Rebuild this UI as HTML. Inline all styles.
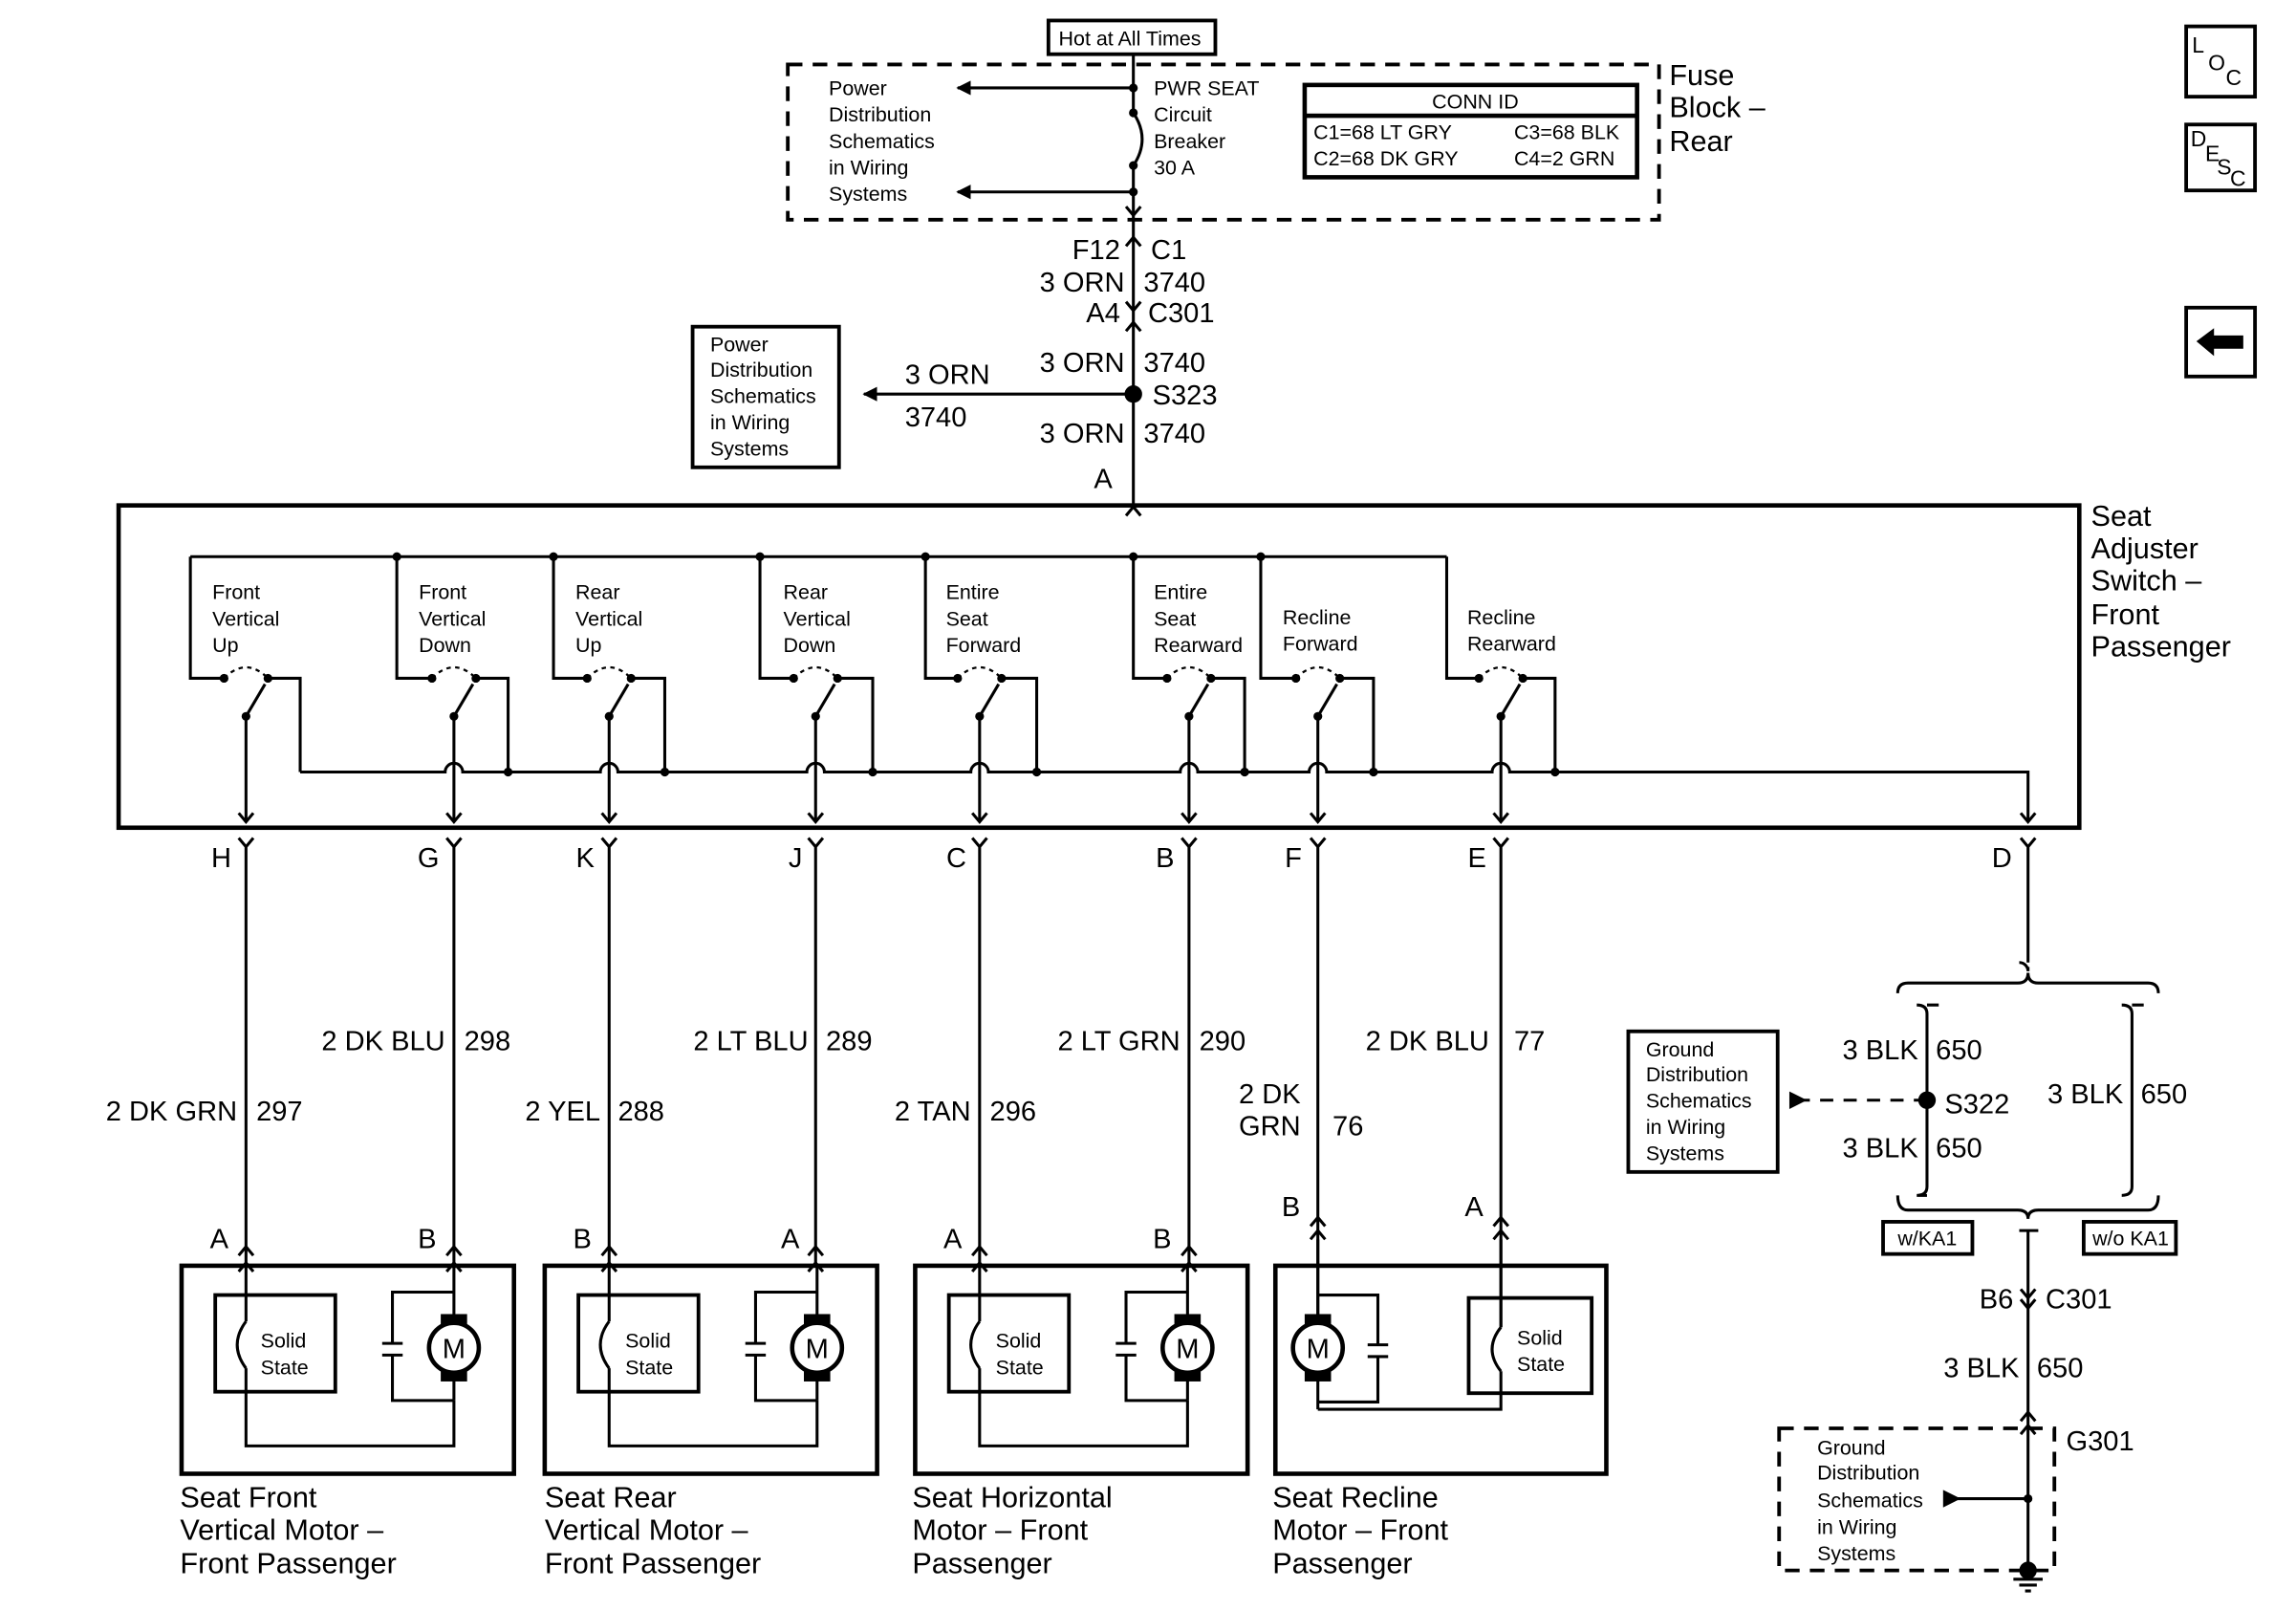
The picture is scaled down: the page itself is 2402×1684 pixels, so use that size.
<!DOCTYPE html>
<html><head><meta charset="utf-8"><style>
html,body{margin:0;padding:0;background:#fff}
svg{display:block}
text{font-family:"Liberation Sans Narrow","Liberation Sans",sans-serif;fill:#000}
.s{font-size:14px}
.m{font-size:19px}
.b{font-size:20px}
</style></head><body>
<svg width="2402" height="1684" viewBox="0 0 1568 1099" preserveAspectRatio="none" xmlns="http://www.w3.org/2000/svg">
<defs>
<marker id="ah" markerWidth="10" markerHeight="10" refX="9" refY="5" orient="auto" markerUnits="userSpaceOnUse"><path d="M0,0 L10,5 L0,10 z" fill="#000"/></marker>
</defs>
<g stroke="#000" fill="none" stroke-width="2">
<rect x="716" y="14" width="114" height="23" stroke-width="2.5"/>
<rect x="538" y="44" width="595" height="106" stroke-dasharray="10,7" stroke-width="2.5"/>
<line x1="774" y1="37" x2="774" y2="77"/>
<path d="M774 77 Q786 95 774 113"/>
<line x1="774" y1="113" x2="774" y2="345"/>
<line x1="774" y1="60" x2="654" y2="60" marker-end="url(#ah)"/>
<line x1="774" y1="131" x2="654" y2="131" marker-end="url(#ah)"/>
<rect x="891" y="58" width="227" height="63" stroke-width="3"/>
<line x1="891" y1="79" x2="1118" y2="79" stroke-width="3"/>
<path d="M769 141 L774 147 L779 141"/>
<path d="M769 168 L774 162 L779 168"/>
<path d="M769 206 L774 212 L779 206"/>
<path d="M769 226 L774 220 L779 226"/>
<line x1="774" y1="269" x2="590" y2="269" marker-end="url(#ah)"/>
<rect x="473" y="223" width="100" height="96" stroke-width="2.5"/>
<path d="M769 352 L774 346 L779 352"/>
<rect x="81" y="345" width="1339" height="220" stroke-width="3"/>
<line x1="130" y1="380" x2="988" y2="380"/>
<path d="M130 380 V463 H153 M183 463 H205 V527"/>
<path d="M271 380 V463 H295 M325 463 H347 V527"/>
<path d="M378 380 V463 H401 M431 463 H454 V527"/>
<path d="M519 380 V463 H542 M572 463 H596 V527"/>
<path d="M632 380 V463 H654 M684 463 H708 V527"/>
<path d="M774 380 V463 H797 M827 463 H850 V527"/>
<path d="M861 380 V463 H885 M915 463 H938 V527"/>
<path d="M988 380 V463 H1010 M1040 463 H1062 V527"/>
<path d="M205 527 H304 a6 6 0 0 1 12 0 H410 a6 6 0 0 1 12 0 H551 a6 6 0 0 1 12 0 H663 a6 6 0 0 1 12 0 H806 a6 6 0 0 1 12 0 H894 a6 6 0 0 1 12 0 H1019 a6 6 0 0 1 12 0 H1385 V561"/>
<g stroke-dasharray="3,3" stroke-width="1.5">
<path d="M153 463 Q168 448 183 463"/><path d="M295 463 Q310 448 325 463"/><path d="M401 463 Q416 448 431 463"/><path d="M542 463 Q557 448 572 463"/><path d="M654 463 Q669 448 684 463"/><path d="M797 463 Q812 448 827 463"/><path d="M885 463 Q900 448 915 463"/><path d="M1010 463 Q1025 448 1040 463"/>
</g>
<path d="M168 561 V489 L181 467 M310 561 V489 L323 467 M416 561 V489 L429 467 M557 561 V489 L570 467 M669 561 V489 L682 467 M812 561 V489 L825 467 M900 561 V489 L913 467 M1025 561 V489 L1038 467"/>
<path d="M163 555 L168 561 L173 555 M305 555 L310 561 L315 555 M411 555 L416 561 L421 555 M552 555 L557 561 L562 555 M664 555 L669 561 L674 555 M807 555 L812 561 L817 555 M895 555 L900 561 L905 555 M1020 555 L1025 561 L1030 555 M1380 555 L1385 561 L1390 555"/>
<path d="M163 572 L168 578 L173 572 M168 578 V862"/>
<path d="M305 572 L310 578 L315 572 M310 578 V862"/>
<path d="M411 572 L416 578 L421 572 M416 578 V862"/>
<path d="M552 572 L557 578 L562 572 M557 578 V862"/>
<path d="M664 572 L669 578 L674 572 M669 578 V862"/>
<path d="M807 572 L812 578 L817 572 M812 578 V862"/>
<path d="M895 572 L900 578 L905 572 M900 578 V935"/>
<path d="M1020 572 L1025 578 L1030 572 M1025 578 V906"/>
<path d="M1380 572 L1385 578 L1390 572 M1385 578 V657"/>
<path d="M163 857 L168 851 L173 857 M163 868 L168 862 L173 868"/>
<path d="M305 857 L310 851 L315 857 M305 868 L310 862 L315 868"/>
<path d="M411 857 L416 851 L421 857 M411 868 L416 862 L421 868"/>
<path d="M552 857 L557 851 L562 857 M552 868 L557 862 L562 868"/>
<path d="M664 857 L669 851 L674 857 M664 868 L669 862 L674 868"/>
<path d="M807 857 L812 851 L817 857 M807 868 L812 862 L817 868"/>
<path d="M895 837 L900 831 L905 837 M895 846 L900 840 L905 846"/>
<path d="M1020 837 L1025 831 L1030 837 M1020 846 L1025 840 L1030 846"/>
<path d="M1379 657 a6 6 0 0 1 6 6 V660"/>
<path d="M1296 678 Q1296 671 1303 671 H1378 Q1385 671 1385 664 Q1385 671 1392 671 H1467 Q1474 671 1474 678"/>
<path d="M1309 686 Q1316 686 1316 692 V810 Q1316 816 1309 816 M1316 686 H1324 M1316 816 H1309"/>
<path d="M1449 686 Q1456 686 1456 692 V810 Q1456 816 1449 816 M1456 686 H1464"/>
<path d="M1296 816 Q1296 826 1303 826 H1378 Q1385 826 1385 832 Q1385 826 1392 826 H1467 Q1474 826 1474 816"/>
<path d="M1379 840 H1385 V1072 M1385 840 H1392"/>
<line x1="1316" y1="751" x2="1230" y2="751" stroke-dasharray="9,7"/>
<rect x="1112" y="704" width="102" height="96" stroke-width="2.5"/>
<rect x="1286" y="834" width="61" height="22" stroke-width="2.5"/>
<rect x="1423" y="834" width="63" height="22" stroke-width="2.5"/>
<path d="M1380 880 L1385 886 L1390 880 M1380 887 L1385 893 L1390 887"/>
<path d="M1380 970 L1385 964 L1390 970 M1380 979 L1385 973 L1390 979"/>
<rect x="1215" y="975" width="188" height="97" stroke-dasharray="10,7" stroke-width="2.5"/>
<line x1="1385" y1="1023" x2="1335" y2="1023"/>
<path d="M1375 1078 H1395 M1379 1082 H1391 M1383 1086 H1387"/>
<g id="mb">
<rect x="124" y="864" width="227" height="142" stroke-width="3"/>
<rect x="147" y="884" width="82" height="66" stroke-width="2.5"/>
<path d="M168 864 V902 M168 902 Q156 918 168 934 M168 934 V987 H310 V956"/>
<path d="M310 864 V956 M310 882 H268 V917 M310 956 H268 V925 M261 917 H275 M261 925 H275"/>
<circle cx="310" cy="920" r="17" fill="#fff" stroke-width="3"/>
<rect x="301" y="897" width="18" height="7" fill="#000" stroke="none"/>
<rect x="301" y="936" width="18" height="7" fill="#000" stroke="none"/>
<text x="310" y="927" text-anchor="middle" stroke="none" style="font-size:19px">M</text>
</g>
<use href="#mb" transform="translate(248,0)"/>
<use href="#mb" transform="translate(501,0)"/>
<rect x="871" y="864" width="226" height="142" stroke-width="3"/>
<rect x="1003" y="886" width="84" height="65" stroke-width="2.5"/>
<path d="M1025 846 V906 M1025 906 Q1013 921 1025 936 M1025 936 V962 H900 M900 846 V962 M900 884 H941 V918 M900 957 H941 V926 M934 918 H948 M934 926 H948"/>
<circle cx="900" cy="920" r="17" fill="#fff" stroke-width="3"/>
<rect x="1493" y="18" width="47" height="48" stroke-width="2.5"/>
<rect x="1493" y="85" width="47" height="45" stroke-width="2.5"/>
<rect x="1493" y="210" width="47" height="47" stroke-width="2.5"/>
</g>
<g fill="#000">
<rect x="891" y="897" width="18" height="7"/><rect x="891" y="936" width="18" height="7"/>
<circle cx="774" cy="60" r="3"/><circle cx="774" cy="77" r="3"/><circle cx="774" cy="113" r="3"/><circle cx="774" cy="131" r="3"/>
<circle cx="774" cy="269" r="6"/>
<circle cx="271" cy="380" r="3"/><circle cx="378" cy="380" r="3"/><circle cx="519" cy="380" r="3"/><circle cx="632" cy="380" r="3"/><circle cx="774" cy="380" r="3"/><circle cx="861" cy="380" r="3"/>
<circle cx="347" cy="527" r="3"/><circle cx="454" cy="527" r="3"/><circle cx="596" cy="527" r="3"/><circle cx="708" cy="527" r="3"/><circle cx="850" cy="527" r="3"/><circle cx="938" cy="527" r="3"/><circle cx="1062" cy="527" r="3"/>
<circle cx="153" cy="463" r="3"/><circle cx="183" cy="463" r="3"/><circle cx="168" cy="489" r="3"/>
<circle cx="295" cy="463" r="3"/><circle cx="325" cy="463" r="3"/><circle cx="310" cy="489" r="3"/>
<circle cx="401" cy="463" r="3"/><circle cx="431" cy="463" r="3"/><circle cx="416" cy="489" r="3"/>
<circle cx="542" cy="463" r="3"/><circle cx="572" cy="463" r="3"/><circle cx="557" cy="489" r="3"/>
<circle cx="654" cy="463" r="3"/><circle cx="684" cy="463" r="3"/><circle cx="669" cy="489" r="3"/>
<circle cx="797" cy="463" r="3"/><circle cx="827" cy="463" r="3"/><circle cx="812" cy="489" r="3"/>
<circle cx="885" cy="463" r="3"/><circle cx="915" cy="463" r="3"/><circle cx="900" cy="489" r="3"/>
<circle cx="1010" cy="463" r="3"/><circle cx="1040" cy="463" r="3"/><circle cx="1025" cy="489" r="3"/>
<circle cx="1316" cy="751" r="6"/>
<path d="M1222 745 L1234 751 L1222 757 z"/>
<path d="M1327 1017 L1339 1023 L1327 1029 z"/>
<circle cx="1385" cy="1023" r="3"/>
<circle cx="1385" cy="1072" r="6"/>
<path d="M1500 233 L1512 224 V229 H1532 V238 H1512 V243 z"/>
</g>
<text x="900" y="927" text-anchor="middle" style="font-size:19px">M</text>
<text x="723" y="31" class="s">Hot at All Times</text>
<g class="s">
<text x="566" y="65">Power</text><text x="566" y="83">Distribution</text><text x="566" y="101">Schematics</text><text x="566" y="119">in Wiring</text><text x="566" y="137">Systems</text>
<text x="788" y="65">PWR SEAT</text><text x="788" y="83">Circuit</text><text x="788" y="101">Breaker</text><text x="788" y="119">30 A</text>
<text x="978" y="74">CONN ID</text>
<text x="897" y="95">C1=68 LT GRY</text><text x="1034" y="95">C3=68 BLK</text>
<text x="897" y="113">C2=68 DK GRY</text><text x="1034" y="113">C4=2 GRN</text>
<text x="485" y="240">Power</text><text x="485" y="257">Distribution</text><text x="485" y="275">Schematics</text><text x="485" y="293">in Wiring</text><text x="485" y="311">Systems</text>
<text x="145" y="409">Front</text><text x="145" y="427">Vertical</text><text x="145" y="445">Up</text>
<text x="286" y="409">Front</text><text x="286" y="427">Vertical</text><text x="286" y="445">Down</text>
<text x="393" y="409">Rear</text><text x="393" y="427">Vertical</text><text x="393" y="445">Up</text>
<text x="535" y="409">Rear</text><text x="535" y="427">Vertical</text><text x="535" y="445">Down</text>
<text x="646" y="409">Entire</text><text x="646" y="427">Seat</text><text x="646" y="445">Forward</text>
<text x="788" y="409">Entire</text><text x="788" y="427">Seat</text><text x="788" y="445">Rearward</text>
<text x="876" y="426">Recline</text><text x="876" y="444">Forward</text>
<text x="1002" y="426">Recline</text><text x="1002" y="444">Rearward</text>
<text x="178" y="920">Solid</text><text x="178" y="938">State</text>
<text x="427" y="920">Solid</text><text x="427" y="938">State</text>
<text x="680" y="920">Solid</text><text x="680" y="938">State</text>
<text x="1036" y="918">Solid</text><text x="1036" y="936">State</text>
<text x="1124" y="721">Ground</text><text x="1124" y="738">Distribution</text><text x="1124" y="756">Schematics</text><text x="1124" y="774">in Wiring</text><text x="1124" y="792">Systems</text>
<text x="1296" y="850">w/KA1</text><text x="1429" y="850">w/o KA1</text>
<text x="1241" y="993">Ground</text><text x="1241" y="1010">Distribution</text><text x="1241" y="1029">Schematics</text><text x="1241" y="1047">in Wiring</text><text x="1241" y="1065">Systems</text>
</g>
<g class="b">
<text x="1140" y="58">Fuse</text><text x="1140" y="80">Block –</text><text x="1140" y="103">Rear</text>
<text x="1428" y="359">Seat</text><text x="1428" y="381">Adjuster</text><text x="1428" y="403">Switch –</text><text x="1428" y="426">Front</text><text x="1428" y="448">Passenger</text>
<text x="123" y="1029">Seat Front</text><text x="123" y="1051">Vertical Motor –</text><text x="123" y="1074">Front Passenger</text>
<text x="372" y="1029">Seat Rear</text><text x="372" y="1051">Vertical Motor –</text><text x="372" y="1074">Front Passenger</text>
<text x="623" y="1029">Seat Horizontal</text><text x="623" y="1051">Motor – Front</text><text x="623" y="1074">Passenger</text>
<text x="869" y="1029">Seat Recline</text><text x="869" y="1051">Motor – Front</text><text x="869" y="1074">Passenger</text>
</g>
<g class="m">
<text x="765" y="177" text-anchor="end">F12</text><text x="786" y="177">C1</text>
<text x="768" y="199" text-anchor="end">3 ORN</text><text x="781" y="199">3740</text>
<text x="765" y="220" text-anchor="end">A4</text><text x="784" y="220">C301</text>
<text x="768" y="254" text-anchor="end">3 ORN</text><text x="781" y="254">3740</text>
<text x="787" y="276">S323</text>
<text x="618" y="262">3 ORN</text><text x="618" y="291">3740</text>
<text x="768" y="302" text-anchor="end">3 ORN</text><text x="781" y="302">3740</text>
<text x="747" y="333">A</text>
<text x="158" y="592" text-anchor="end">H</text><text x="300" y="592" text-anchor="end">G</text><text x="406" y="592" text-anchor="end">K</text><text x="548" y="592" text-anchor="end">J</text><text x="660" y="592" text-anchor="end">C</text><text x="802" y="592" text-anchor="end">B</text><text x="889" y="592" text-anchor="end">F</text><text x="1015" y="592" text-anchor="end">E</text><text x="1374" y="592" text-anchor="end">D</text>
<text x="162" y="765" text-anchor="end">2 DK GRN</text><text x="175" y="765">297</text>
<text x="304" y="717" text-anchor="end">2 DK BLU</text><text x="317" y="717">298</text>
<text x="410" y="765" text-anchor="end">2 YEL</text><text x="422" y="765">288</text>
<text x="552" y="717" text-anchor="end">2 LT BLU</text><text x="564" y="717">289</text>
<text x="663" y="765" text-anchor="end">2 TAN</text><text x="676" y="765">296</text>
<text x="806" y="717" text-anchor="end">2 LT GRN</text><text x="819" y="717">290</text>
<text x="846" y="753">2 DK</text><text x="846" y="775">GRN</text><text x="910" y="775">76</text>
<text x="1017" y="717" text-anchor="end">2 DK BLU</text><text x="1034" y="717">77</text>
<text x="156" y="852" text-anchor="end">A</text><text x="298" y="852" text-anchor="end">B</text><text x="404" y="852" text-anchor="end">B</text><text x="546" y="852" text-anchor="end">A</text><text x="657" y="852" text-anchor="end">A</text><text x="800" y="852" text-anchor="end">B</text><text x="888" y="830" text-anchor="end">B</text><text x="1013" y="830" text-anchor="end">A</text>
<text x="1310" y="723" text-anchor="end">3 BLK</text><text x="1322" y="723">650</text>
<text x="1328" y="760">S322</text>
<text x="1310" y="790" text-anchor="end">3 BLK</text><text x="1322" y="790">650</text>
<text x="1450" y="753" text-anchor="end">3 BLK</text><text x="1462" y="753">650</text>
<text x="1375" y="893" text-anchor="end">B6</text><text x="1397" y="893">C301</text>
<text x="1379" y="940" text-anchor="end">3 BLK</text><text x="1391" y="940">650</text>
<text x="1411" y="990">G301</text>
</g>
<g style="font-size:15px">
<text x="1497" y="36">L</text><text x="1508" y="48">O</text><text x="1520" y="58">C</text>
<text x="1496" y="100">D</text><text x="1506" y="110">E</text><text x="1514" y="119">S</text><text x="1523" y="127">C</text>
</g>
</svg>
</body></html>
